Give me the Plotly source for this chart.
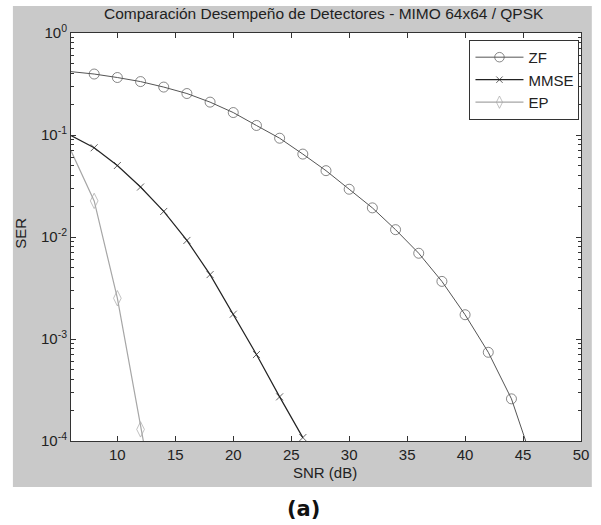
import plotly.graph_objects as go

# ---- data ----
snr_zf = [6, 8, 10, 12, 14, 16, 18, 20, 22, 24, 26, 28, 30, 32, 34, 36, 38, 40, 42, 44, 46]
ser_zf = [0.418, 0.396, 0.366, 0.334, 0.295, 0.255, 0.210, 0.166, 0.124, 0.093, 0.065,
          0.0447, 0.0294, 0.0193, 0.0118, 0.00693, 0.00367, 0.00173, 0.000741, 0.000259, 0.000055]

snr_mmse = [6, 8, 10, 12, 14, 16, 18, 20, 22, 24, 26]
ser_mmse = [0.099, 0.075, 0.0502, 0.0309, 0.0178, 0.00925, 0.00428, 0.00175, 0.000704, 0.000271, 0.000108]

snr_ep = [6, 8, 10, 12, 14]
ser_ep = [0.070, 0.0226, 0.00251, 0.00013, 0.000008]

x_ticks = [10, 15, 20, 25, 30, 35, 40, 45, 50]
y_ticks = [1, 0.1, 0.01, 0.001, 0.0001]
y_tick_text = ["10<sup>0</sup>", "10<sup>-1</sup>", "10<sup>-2</sup>", "10<sup>-3</sup>", "10<sup>-4</sup>"]

title_text = "Comparación Desempeño de Detectores - MIMO 64x64 / QPSK"

FONT = "Liberation Sans, Arial, sans-serif"
AXC = "#333333"
TXT = "#222222"


def sizes(n, s):
    # first point sits on the left axis edge and has no marker in the reference
    return [0] + [s] * (n - 1)


fig = go.Figure()
fig.add_trace(go.Scatter(
    x=snr_zf, y=ser_zf, name="ZF", mode="lines+markers",
    line=dict(color="#555555", width=1),
    marker=dict(symbol="circle-open", size=sizes(len(snr_zf), 10), color="#555555",
                line=dict(width=1, color="#555555")),
))
fig.add_trace(go.Scatter(
    x=snr_mmse, y=ser_mmse, name="MMSE", mode="lines+markers",
    line=dict(color="#222222", width=1.2),
    marker=dict(symbol="x-thin-open", size=sizes(len(snr_mmse), 7), color="#222222",
                line=dict(width=1, color="#222222")),
))
fig.add_trace(go.Scatter(
    x=snr_ep, y=ser_ep, name="EP", mode="lines+markers",
    line=dict(color="#a6a6a6", width=1.2),
    marker=dict(symbol="diamond-tall-open", size=sizes(len(snr_ep), 11), color="#a6a6a6",
                line=dict(width=1, color="#a6a6a6")),
))

# grey figure background (MATLAB style) and white axes area
fig.add_shape(type="rect", xref="paper", yref="paper",
              x0=-0.1139, x1=1.0212, y0=-0.1127, y1=1.0662,
              fillcolor="#c9c9c9", line=dict(width=0), layer="below")
fig.add_shape(type="rect", xref="paper", yref="paper",
              x0=0, x1=1, y0=0, y1=1,
              fillcolor="white", line=dict(width=0), layer="below")

fig.update_layout(
    width=601, height=525,
    margin=dict(l=71, r=12, t=33, b=84),
    paper_bgcolor="white", plot_bgcolor="white",
    font=dict(family=FONT, size=15, color=TXT),
    showlegend=True,
    legend=dict(x=0.997, y=0.983, xanchor="right", yanchor="top",
                bgcolor="white", bordercolor=AXC, borderwidth=1,
                font=dict(size=15, family=FONT, color=TXT),
                tracegroupgap=0, itemwidth=48),
)

fig.update_xaxes(
    range=[6, 50], tickvals=x_ticks, ticks="inside", ticklen=5, tickcolor=AXC,
    showline=True, linecolor=AXC, linewidth=1, mirror="ticks", showgrid=False, zeroline=False,
    tickfont=dict(size=15, family=FONT, color=TXT),
)
fig.update_yaxes(
    type="log", range=[-4, 0], tickvals=y_ticks, ticktext=y_tick_text,
    ticks="inside", ticklen=5, tickcolor=AXC,
    showline=True, linecolor=AXC, linewidth=1, mirror="ticks", showgrid=False, zeroline=False,
    tickfont=dict(size=15, family=FONT, color=TXT),
    minor=dict(ticks="inside", ticklen=3, dtick="D1", tickcolor=AXC, showgrid=False),
)

# title and axis labels
fig.add_annotation(text=title_text, xref="paper", yref="paper", x=0.496, y=1.049,
                   showarrow=False, font=dict(size=15.5, family=FONT, color=TXT),
                   xanchor="center", yanchor="middle")
fig.add_annotation(text="SNR (dB)", xref="paper", yref="paper", x=0.498, y=-0.076,
                   showarrow=False, font=dict(size=15, family=FONT, color=TXT),
                   xanchor="center", yanchor="middle")
fig.add_annotation(text="SER", xref="paper", yref="paper", x=-0.0985, y=0.51,
                   showarrow=False, textangle=-90, font=dict(size=15, family=FONT, color=TXT),
                   xanchor="center", yanchor="middle")
fig.add_annotation(text="<b>(a)</b>", xref="paper", yref="paper", x=0.4566, y=-0.1667,
                   showarrow=False, font=dict(size=21, family="DejaVu Sans", color="#111111"),
                   xanchor="center", yanchor="middle")

fig.write_html("out.html")
